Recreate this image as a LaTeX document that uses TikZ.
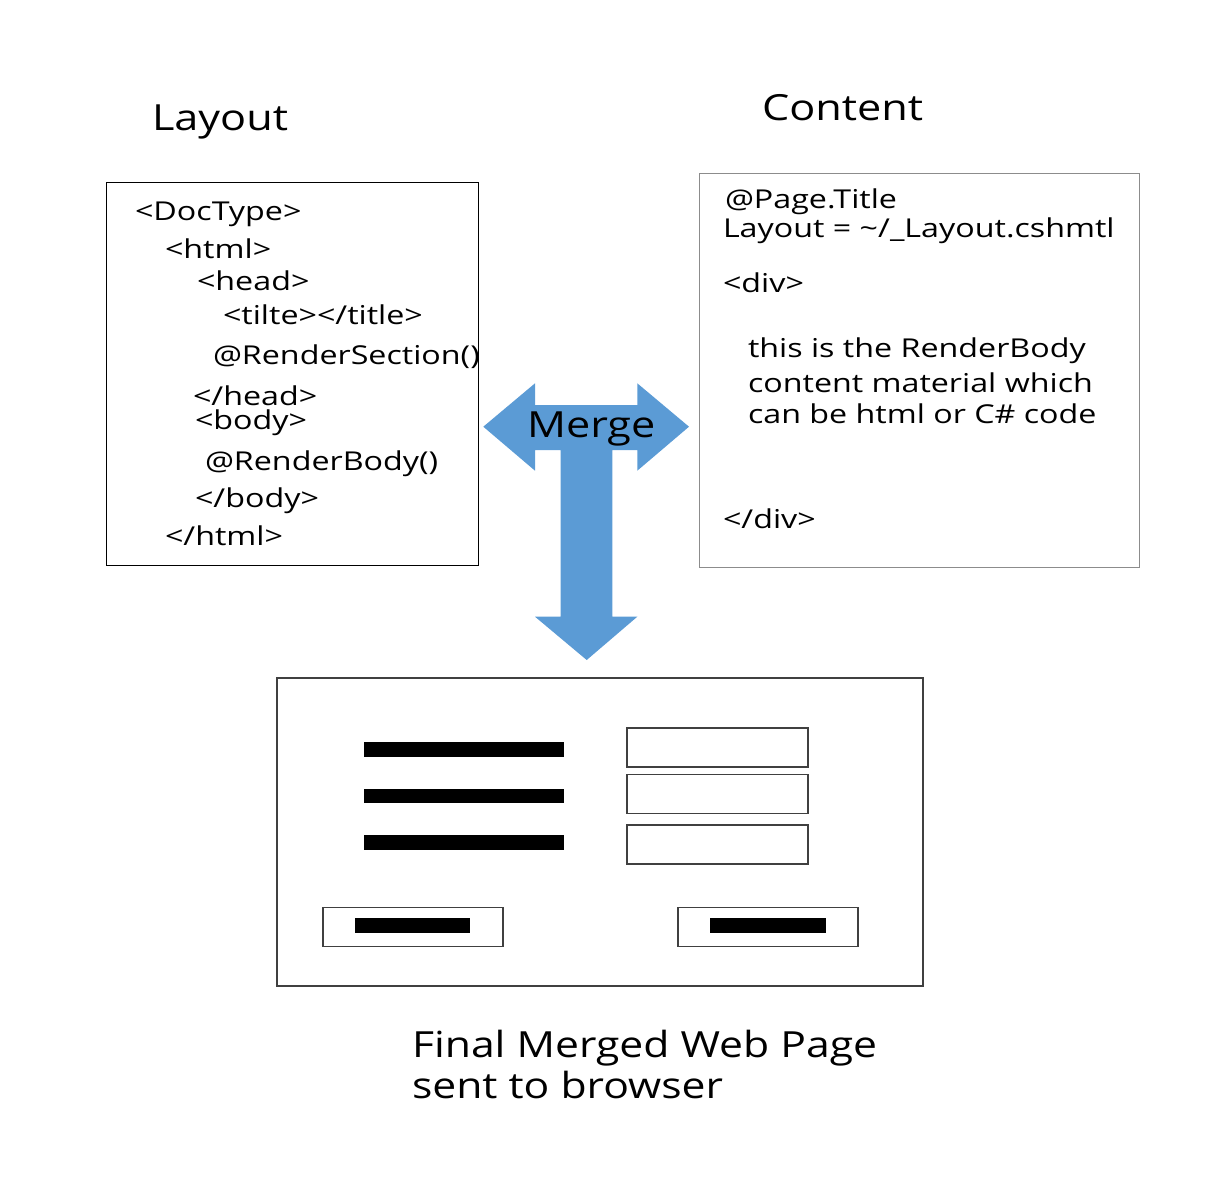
\documentclass[tikz,border=0pt]{standalone}
\usepackage{fontspec}
\setmainfont{Open Sans}
\usepackage{graphicx}
\definecolor{mergeblue}{HTML}{5B9BD5}
\definecolor{boxgray}{HTML}{8C8C8C}
\definecolor{darkgray2}{HTML}{404040}
\newcommand{\txt}[3]{\fontsize{#1}{#1}\selectfont\scalebox{#2}[1]{#3}}
\newcommand{\head}[1]{\txt{36}{1.2}{#1}}
\newcommand{\cod}[1]{\txt{26}{1.24}{#1}}
\begin{document}
\begin{tikzpicture}[x=1pt,y=-1pt,
  lbl/.style={anchor=base west,inner sep=0pt,outer sep=0pt},
  code/.style={lbl},
  bar/.style={fill=black,draw=none},
  field/.style={draw=darkgray2,line width=1.3pt,fill=white}]
\useasboundingbox (0,0) rectangle (1222,1186);
% headings
\node[lbl] (hlayout) at (152,130) {\head{Layout}};
\node[lbl] (hcontent) at (762,120) {\head{Content}};
% layout box
\draw[line width=1pt] (106,182) rectangle (478,565);
\node[code] (l1) at (135,220) {\cod{<DocType>}};
\node[code] (l2) at (165,258) {\cod{<html>}};
\node[code] (l3) at (197,290) {\cod{<head>}};
\node[code] (l4) at (223,324) {\cod{<tilte></title>}};
\node[code] (l5) at (213,364) {\cod{@RenderSection()}};
\node[code] (l6) at (193,405) {\cod{</head>}};
\node[code] (l7) at (195,429) {\cod{<body>}};
\node[code] (l8) at (205,470) {\cod{@RenderBody()}};
\node[code] (l9) at (195,507) {\cod{</body>}};
\node[code] (l10) at (165,545) {\cod{</html>}};
% content box
\draw[boxgray,line width=1pt] (699,173) rectangle (1139,567);
\node[code] (c1) at (725,208) {\cod{@Page.Title}};
\node[code] (c2) at (723,237) {\cod{Layout = \textasciitilde/\_Layout.cshmtl}};
\node[code] (c3) at (723,292) {\cod{<div>}};
\node[code] (c4) at (748,357) {\cod{this is the RenderBody}};
\node[code] (c5) at (748,392) {\cod{content material which}};
\node[code] (c6) at (748,423) {\cod{can be html or C\# code}};
\node[code] (c7) at (723,528) {\cod{</div>}};
% merge arrow
\fill[mergeblue] (483.3,426.7) -- (535,383.3) -- (535,405) -- (637.3,405) -- (637.3,383.3)
  -- (689,426.7) -- (637.3,470.7) -- (637.3,450) -- (612.3,450) -- (612.3,616.7)
  -- (637.3,616.7) -- (586.7,660) -- (535,616.7) -- (560.7,616.7) -- (560.7,450)
  -- (535,450) -- (535,470.7) -- cycle;
\node[lbl] (merge) at (527,437) {\head{Merge}};
% final page
\draw[darkgray2,line width=1.3pt] (277,678) rectangle (923,986);
\fill[bar] (364,742) rectangle (564,756.7);
\fill[bar] (364,788.7) rectangle (564,803);
\fill[bar] (364,835.3) rectangle (564,850);
\draw[field] (627,728) rectangle (808,767);
\draw[field] (627,774.7) rectangle (808,813.7);
\draw[field] (627,825) rectangle (808,864);
\draw[field] (323,907.7) rectangle (503,946.7);
\fill[bar] (355,918) rectangle (470.4,932.7);
\draw[field] (678,907.7) rectangle (858,946.7);
\fill[bar] (710,918) rectangle (825.5,932.7);
\node[lbl] (f1) at (412,1057) {\txt{36}{1.185}{Final Merged Web Page}};
\node[lbl] (f2) at (412,1098) {\txt{36}{1.185}{sent to browser}};
\end{tikzpicture}
\end{document}
